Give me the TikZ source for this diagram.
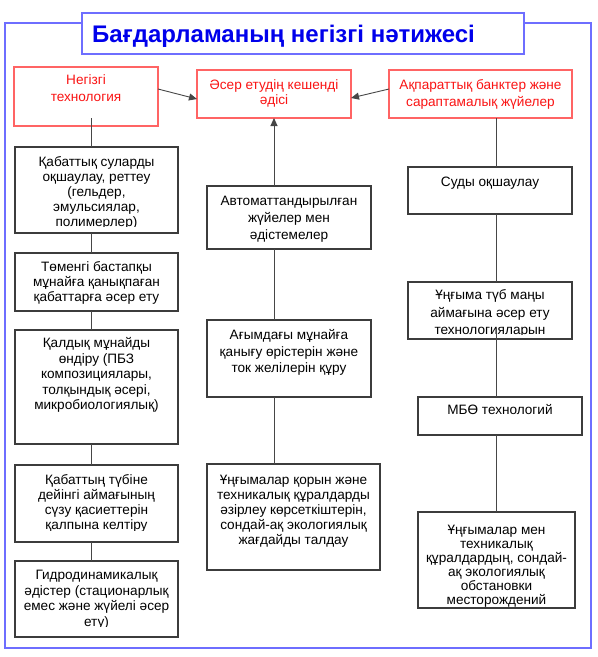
\documentclass[tikz,border=0pt]{standalone}
\usepackage{fontspec}
\setmainfont{Liberation Sans}
\usetikzlibrary{arrows.meta}
\definecolor{frameblue}{RGB}{110,110,255}
\definecolor{titleblue}{RGB}{0,0,235}
\definecolor{redline}{RGB}{255,100,100}
\definecolor{redtext}{RGB}{250,20,20}
\definecolor{boxgray}{RGB}{60,60,60}
\definecolor{conngray}{RGB}{70,70,70}
\newcommand{\bxtext}[5]{%
  \begin{scope}
    \clip ([yshift=#3]#1.south west) rectangle (#1.north east);
    \node[txt,anchor=north,#4] (#1t) at ([yshift=-#2]#1.north) {\rule{0pt}{11.5pt}#5};
  \end{scope}}
\begin{document}
\begin{tikzpicture}[x=1pt,y=-1pt,
  blackbox/.style={draw=boxgray,line width=1.1pt,fill=white,inner sep=0pt,outer sep=0pt},
  redbox/.style={draw=redline,line width=1.1pt,fill=white,inner sep=0pt,outer sep=0pt},
  txt/.style={font=\fontsize{13.6}{15}\selectfont,align=center,inner sep=0pt,text=black},
  redtxt/.style={text=redtext},
  conn/.style={draw=conngray,line width=0.9pt},
  arrowhd/.style={-{Triangle[length=8pt,width=7pt]}}]
\useasboundingbox (0,0) rectangle (598,657);
% outer frame and title
\node[draw=frameblue,line width=1.4pt,inner sep=0pt,outer sep=0pt,minimum width=586pt,minimum height=625pt] (frame) at (298,335.5) {};
\node[draw=frameblue,fill=white,line width=1.4pt,inner sep=0pt,outer sep=0pt,minimum width=442pt,minimum height=41pt] (titlebox) at (303,33.5) {};
\node[anchor=base west,inner sep=0pt,font=\fontsize{24}{28}\selectfont\bfseries,text=titleblue] (title) at (92,42) {Бағдарламаның негізгі нәтижесі};
% red boxes
\node[redbox,minimum width=144pt,minimum height=59pt] (B1) at (86,96.5) {};
\node[redbox,minimum width=154pt,minimum height=48pt] (B2) at (274,94) {};
\node[redbox,minimum width=183pt,minimum height=48pt] (B3) at (480.5,94) {};
% left column
\node[blackbox,minimum width=163pt,minimum height=86pt] (L1) at (96.5,190) {};
\node[blackbox,minimum width=163pt,minimum height=58pt] (L2) at (96.5,282) {};
\node[blackbox,minimum width=163pt,minimum height=114pt] (L3) at (96.5,387) {};
\node[blackbox,minimum width=163pt,minimum height=77pt] (L4) at (96.5,503.5) {};
\node[blackbox,minimum width=163pt,minimum height=76pt] (L5) at (96.5,599) {};
% middle column
\node[blackbox,minimum width=164pt,minimum height=63pt] (M1) at (289,217.5) {};
\node[blackbox,minimum width=164pt,minimum height=77pt] (M2) at (289,358.5) {};
\node[blackbox,minimum width=173pt,minimum height=106pt] (M3) at (293.5,517) {};
% right column
\node[blackbox,minimum width=164pt,minimum height=47pt] (R1) at (490,190.5) {};
\node[blackbox,minimum width=164pt,minimum height=57pt] (R2) at (490,310.5) {};
\node[blackbox,minimum width=164pt,minimum height=38pt] (R3) at (500,416) {};
\node[blackbox,minimum width=157pt,minimum height=96pt] (R4) at (496.5,560) {};
% texts
\bxtext{B1}{6pt}{1pt}{redtxt,font=\fontsize{13.6}{17}\selectfont}{Негізгі\\технология}
\bxtext{B2}{8pt}{1pt}{redtxt}{Әсер етудің кешенді\\әдісі}
\bxtext{B3}{8pt}{1pt}{redtxt,font=\fontsize{13.6}{16.5}\selectfont}{Ақпараттық банктер және\\сараптамалық жүйелер}
\bxtext{L1}{8pt}{7pt}{}{Қабаттық суларды\\оқшаулау, реттеу\\(гельдер,\\эмульсиялар,\\полимерлер)}
\bxtext{L2}{7pt}{1pt}{}{Төменгі бастапқы\\мұнайға қанықпаған\\қабаттарға әсер ету}
\bxtext{L3}{6pt}{1pt}{font=\fontsize{13.6}{15.5}\selectfont}{Қалдық мұнайды\\өндіру (ПБЗ\\композициялары,\\толқындық әсері,\\микробиологиялық)}
\bxtext{L4}{8pt}{12pt}{}{Қабаттың түбіне\\дейінгі аймағының\\сүзу қасиеттерін\\қалпына келтіру}
\bxtext{L5}{7pt}{10.5pt}{font=\fontsize{13.6}{15.5}\selectfont}{Гидродинамикалық\\әдістер (стационарлық\\емес және жүйелі әсер\\ету)}
\bxtext{M1}{8pt}{1pt}{font=\fontsize{13.6}{17}\selectfont}{Автоматтандырылған\\жүйелер мен\\әдістемелер}
\bxtext{M2}{8pt}{1pt}{font=\fontsize{13.6}{16.5}\selectfont}{Ағымдағы мұнайға\\қанығу өрістерін және\\ток желілерін құру}
\bxtext{M3}{9pt}{1pt}{}{Ұңғымалар қорын және\\техникалық құралдарды\\әзірлеу көрсеткіштерін,\\сондай-ақ экологиялық\\жағдайды талдау}
\bxtext{R1}{8pt}{1pt}{}{Суды оқшаулау}
\bxtext{R2}{6pt}{5pt}{font=\fontsize{13.6}{17.5}\selectfont}{Ұңғыма түб маңы\\аймағына әсер ету\\технологияларын}
\bxtext{R3}{6pt}{1pt}{}{МБӨ технологий}
\bxtext{R4}{11pt}{1pt}{font=\fontsize{13.6}{14}\selectfont}{Ұңғымалар мен\\техникалық\\құралдардың, сондай-\\ақ экологиялық\\обстановки\\месторождений}
% connector columns
\coordinate (cl) at (91,0);
\coordinate (cm) at (274,0);
\coordinate (cr) at (496,0);
\coordinate (b1lo) at ([yshift=8pt]B1.south);
\coordinate (r2lo) at ([yshift=11pt]R2.south);
% arrows into B2
\draw[conn,arrowhd] ([yshift=7.5pt]B1.east) -- ([yshift=-5pt]B2.west);
\draw[conn,arrowhd] ([yshift=5pt]B3.west) -- ([yshift=-4pt]B2.east);
\draw[conn,arrowhd] (cm |- M1.north) -- (B2.south);
% left chain
\draw[conn] (b1lo -| cl) -- (cl |- L1.north);
\draw[conn] (cl |- L1.south) -- (cl |- L2.north);
\draw[conn] (cl |- L2.south) -- (cl |- L3.north);
\draw[conn] (cl |- L3.south) -- (cl |- L4.north);
\draw[conn] (cl |- L4.south) -- (cl |- L5.north);
% middle chain
\draw[conn] (cm |- M1.south) -- (cm |- M2.north);
\draw[conn] (cm |- M2.south) -- (cm |- M3.north);
% right chain
\draw[conn] (cr |- B3.south) -- (cr |- R1.north);
\draw[conn] (cr |- R1.south) -- (cr |- R2.north);
\draw[conn] (r2lo -| cr) -- (cr |- R3.north);
\draw[conn] (cr |- R3.south) -- (cr |- R4.north);
\end{tikzpicture}
\end{document}
